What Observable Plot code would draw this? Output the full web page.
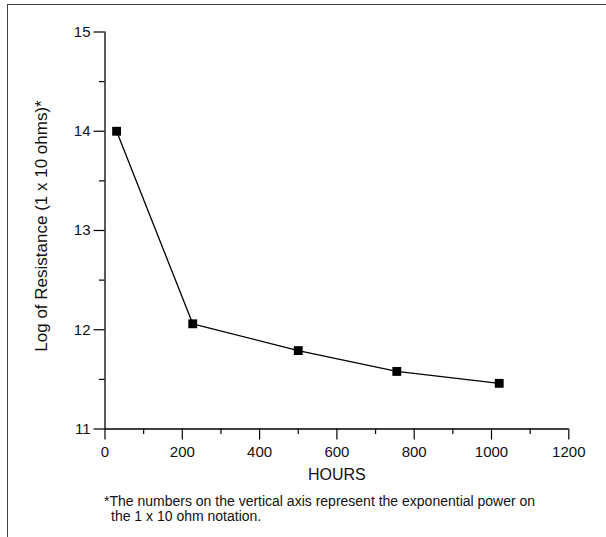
<!DOCTYPE html>
<html><head><meta charset="utf-8">
<script src="https://cdn.jsdelivr.net/npm/d3@7"></script>
<script src="https://cdn.jsdelivr.net/npm/@observablehq/plot@0.6"></script>
<style>
body{margin:0;background:#fff;font-family:"Liberation Sans",Arial,sans-serif;}
#wrap{position:relative;width:606px;height:537px;overflow:hidden;background:#fff;}
#frame{position:absolute;left:7px;top:4px;width:620px;height:560px;border-top:1.5px solid #444;border-left:1.5px solid #444;}
#chart{position:absolute;left:0;top:0;}
#chart [aria-label$="tick label"]{font-size:15px;}
#note{position:absolute;left:104px;top:494px;font-size:14px;line-height:15px;color:#111;white-space:pre;}
</style></head>
<body>
<div id="wrap"><div id="frame"></div><div id="chart"></div>
<div id="note"><div>*The numbers on the vertical axis represent the exponential power on</div><div style="padding-left:7px">the 1 x 10 ohm notation.</div></div>
</div>
<script>
const hours = [30, 227, 500, 755, 1020];
const logResistance = [14.0, 12.06, 11.79, 11.58, 11.46];
const xTicks = [0, 200, 400, 600, 800, 1000, 1200];
const xMinorTicks = [100, 300, 500, 700, 900, 1100];
const yTicks = [11, 12, 13, 14, 15];
const yMinorTicks = [11.5, 12.5, 13.5, 14.5];
const xLabel = "HOURS";
const yLabel = "Log of Resistance (1 x 10 ohms)*";

const points = hours.map((h, i) => ({h, r: logResistance[i]}));
const font = "Liberation Sans, Arial, sans-serif";
const fmt = d => String(d);

const plot = Plot.plot({
  width: 606,
  height: 495,
  marginLeft: 104.5,
  marginRight: 37.7,
  marginTop: 31.5,
  marginBottom: 66.5,
  style: {fontFamily: font, fontSize: "15px", background: "transparent", color: "#111"},
  x: {domain: [0, 1200], label: null},
  y: {domain: [11, 15], label: null},
  marks: [
    Plot.axisX({ticks: xMinorTicks, tickSize: 5.5, text: null, label: null, stroke: "#000", strokeWidth: 1.2}),
    Plot.axisX({ticks: xTicks, tickSize: 11, tickPadding: 6, tickFormat: fmt, fontSize: 15, label: null, stroke: "#000", strokeWidth: 1.2, fill: "#111"}),
    Plot.axisY({ticks: yMinorTicks, tickSize: 5.5, text: null, label: null, stroke: "#000", strokeWidth: 1.2}),
    Plot.axisY({ticks: yTicks, tickSize: 11, tickPadding: 3.5, tickFormat: fmt, fontSize: 15, label: null, stroke: "#000", strokeWidth: 1.2, fill: "#111"}),
    Plot.ruleX([0], {y1: 11, y2: 15, stroke: "#000", strokeWidth: 1.3}),
    Plot.ruleY([11], {x1: 0, x2: 1200, stroke: "#000", strokeWidth: 1.3}),
    Plot.text([xLabel], {frameAnchor: "bottom", dy: 45.5, lineAnchor: "middle", textAnchor: "middle", fontSize: 16, fill: "#111"}),
    Plot.text([yLabel], {frameAnchor: "left", dx: -63, dy: -4.5, rotate: -90, lineAnchor: "middle", textAnchor: "middle", fontSize: 17, fill: "#111"}),
    Plot.line(points, {x: "h", y: "r", stroke: "#000", strokeWidth: 1.3}),
    Plot.dot(points, {x: "h", y: "r", symbol: "square", r: 5, fill: "#000", stroke: "none"})
  ]
});
document.getElementById("chart").appendChild(plot);
</script>
</body></html>
